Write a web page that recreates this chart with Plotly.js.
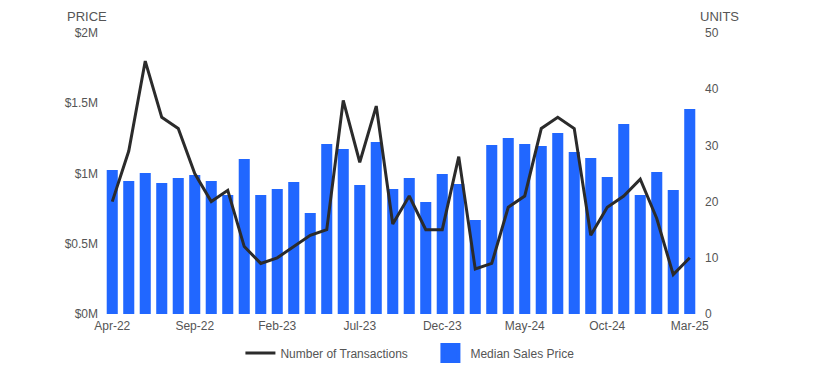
<!DOCTYPE html>
<html><head><meta charset="utf-8">
<script src="https://cdn.plot.ly/plotly-3.0.1.min.js"></script>
<style>html,body{margin:0;padding:0;background:#fff}#chart{width:815px;height:374px}</style>
</head><body><div id="chart"></div>
<script>
const months = ["Apr-22","May-22","Jun-22","Jul-22","Aug-22","Sep-22","Oct-22","Nov-22","Dec-22","Jan-23","Feb-23","Mar-23","Apr-23","May-23","Jun-23","Jul-23","Aug-23","Sep-23","Oct-23","Nov-23","Dec-23","Jan-24","Feb-24","Mar-24","Apr-24","May-24","Jun-24","Jul-24","Aug-24","Sep-24","Oct-24","Nov-24","Dec-24","Jan-25","Feb-25","Mar-25"];
const medianPrice = [1025000,947000,1004000,932000,968000,989000,947000,847000,1103000,847000,890000,940000,719000,1210000,1174000,918000,1224000,890000,968000,797000,996000,925000,669000,1203000,1253000,1210000,1196000,1288000,1153000,1110000,975000,1352000,847000,1011000,883000,1459000];
const transactions = [20,29,45,35,33,25,20,22,12,9,10,12,14,15,38,27,37,16,21,15,15,28,8,9,19,21,33,35,33,14,19,21,24,17,7,10];
const tickMonths = ["Apr-22","Sep-22","Feb-23","Jul-23","Dec-23","May-24","Oct-24","Mar-25"];
const priceTicks = [0,500000,1000000,1500000,2000000];
const priceTickText = ["$0M","$0.5M","$1M","$1.5M","$2M"];
const unitTicks = [0,10,20,30,40,50];

const txt = "#555";
const font = {family:"Liberation Sans, Arial, sans-serif", size:12, color:txt};
const barColor = "#2167FF";
const traces = [
  {type:"bar", x:months, y:medianPrice, name:"Median Sales Price", marker:{color:barColor}, showlegend:false},
  {type:"scatter", mode:"lines", x:months, y:transactions, yaxis:"y2", name:"Number of Transactions", line:{color:"#2b2b2b", width:3}, legendrank:1},
  {type:"scatter", mode:"markers", x:[null], y:[null], name:"Median Sales Price", marker:{color:barColor, symbol:"square", size:16, line:{color:barColor, width:4}}, legendrank:2}
];
const layout = {
  width:815, height:374,
  margin:{l:104, r:117, t:33, b:60},
  paper_bgcolor:"#fff", plot_bgcolor:"#fff",
  font:font,
  bargap:0.33,
  showlegend:true,
  legend:{orientation:"h", x:0.295, xref:"container", xanchor:"left", y:0.056, yref:"container", yanchor:"middle", font:font, itemwidth:30, itemsizing:"trace", entrywidth:145, entrywidthmode:"pixels"},
  xaxis:{type:"category", tickmode:"array", tickvals:tickMonths, ticktext:tickMonths, showgrid:false, zeroline:false, showline:false, ticks:"", tickfont:font, ticklabelstandoff:3, fixedrange:true},
  yaxis:{range:[0,2000000], tickmode:"array", tickvals:priceTicks, ticktext:priceTickText, showgrid:false, zeroline:false, showline:false, ticks:"", tickfont:font, ticklabelstandoff:5, fixedrange:true},
  yaxis2:{range:[0,50], overlaying:"y", side:"right", tickmode:"array", tickvals:unitTicks, showgrid:false, zeroline:false, showline:false, ticks:"", tickfont:font, ticklabelstandoff:6, fixedrange:true},
  annotations:[
    {text:"PRICE", xref:"paper", yref:"paper", x:-0.065, y:1.057, xanchor:"left", yanchor:"middle", showarrow:false, font:{family:font.family, size:13, color:txt}},
    {text:"UNITS", xref:"paper", yref:"paper", x:1.0, y:1.057, xanchor:"left", yanchor:"middle", showarrow:false, font:{family:font.family, size:13, color:txt}}
  ]
};
Plotly.newPlot("chart", traces, layout, {displayModeBar:false, staticPlot:true});
</script></body></html>
